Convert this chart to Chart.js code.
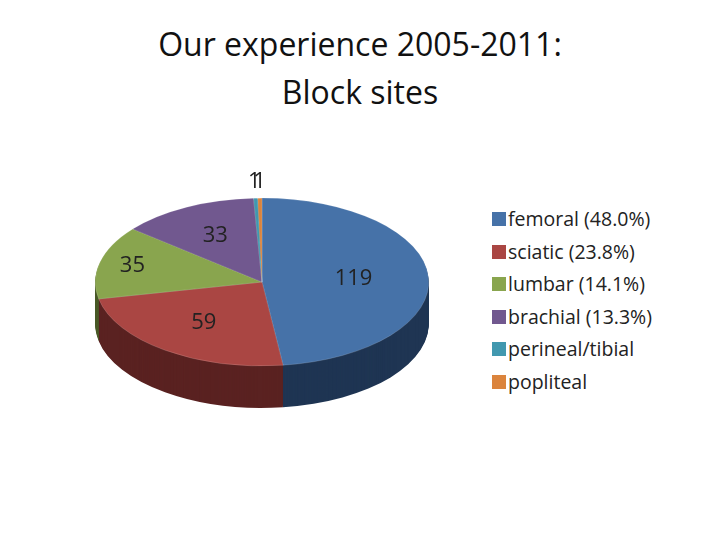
<!DOCTYPE html>
<html><head><meta charset="utf-8">
<script src="https://cdn.jsdelivr.net/npm/chart.js@4"></script>
<style>
body{margin:0;width:720px;height:540px;background:#fff;position:relative;font-family:"Open Sans","Liberation Sans",sans-serif;overflow:hidden}
#title{position:absolute;left:0;width:720px;top:20px;text-align:center;font-size:32px;line-height:48px;color:#111}
#wrap{position:absolute;left:82px;top:102px;width:360px;height:360px}
#legend{position:absolute;left:492px;top:203px;font-size:19.5px;color:#222;line-height:32.5px}
#legend div{display:flex;align-items:center}
#legend span{display:inline-block;width:14px;height:14px;margin-right:2px}
</style></head><body>
<div id="title">Our experience 2005-2011:<br>Block sites</div>
<div id="wrap"><canvas id="c" width="360" height="360"></canvas></div>
<div id="legend"></div>
<script>
const categories=["femoral","sciatic","lumbar","brachial","perineal/tibial","popliteal"];
const values=[119,59,35,33,1,1];
const legendLabels=["femoral (48.0%)","sciatic (23.8%)","lumbar (14.1%)","brachial (13.3%)","perineal/tibial","popliteal"];
const colors=["#4672A8","#AA4643","#89A54E","#71588F","#4198AF","#DB843D"];
const sideColors=["#1F3553","#5A2221","#4A5A28","#3C2E4E","#20505C","#7A4820"];
const labelRadius=[0.55,0.6,0.8,0.62,1.2,1.2];
const SY=0.503, DEPTH=42;
const leg=document.getElementById('legend');
legendLabels.forEach((l,i)=>{const d=document.createElement('div');d.innerHTML='<span style="background:'+colors[i]+'"></span>'+l;leg.appendChild(d);});
const tilt={id:'tilt',
 beforeDatasetsDraw(chart){const ctx=chart.ctx;const a=chart.getDatasetMeta(0).data[0];
  ctx.save();ctx.translate(0,a.y);ctx.scale(1,SY);ctx.translate(0,-a.y);
  const arcs=chart.getDatasetMeta(0).data;
  for(let d=DEPTH;d>=1;d--){ctx.save();ctx.translate(0,d/SY);
   arcs.forEach((arc,i)=>{const o=arc.options.backgroundColor,bw=arc.options.borderWidth;arc.options.backgroundColor=sideColors[i];arc.options.borderWidth=0;arc.draw(ctx);arc.options.backgroundColor=o;arc.options.borderWidth=bw;});
   ctx.restore();}
 },
 afterDatasetsDraw(chart){const ctx=chart.ctx;ctx.restore();
  const arcs=chart.getDatasetMeta(0).data;
  ctx.save();ctx.font='22px "Open Sans","Liberation Sans",sans-serif';ctx.fillStyle='#222';ctx.textAlign='center';ctx.textBaseline='middle';
  arcs.forEach((arc,i)=>{const m=(arc.startAngle+arc.endAngle)/2;const f=labelRadius[i];
   let x=arc.x+Math.cos(m)*arc.outerRadius*f, y=arc.y+Math.sin(m)*arc.outerRadius*f*SY;
   ctx.fillText(String(values[i]),x,y);});
  ctx.restore();}
};
new Chart(document.getElementById('c'),{type:'pie',
 data:{labels:categories,datasets:[{data:values,backgroundColor:colors,borderWidth:0.5,borderColor:'rgba(255,255,255,0.4)'}]},
 options:{responsive:false,animation:false,layout:{padding:13},events:[],
  plugins:{legend:{display:false},tooltip:{enabled:false}}},
 plugins:[tilt]});
</script></body></html>
